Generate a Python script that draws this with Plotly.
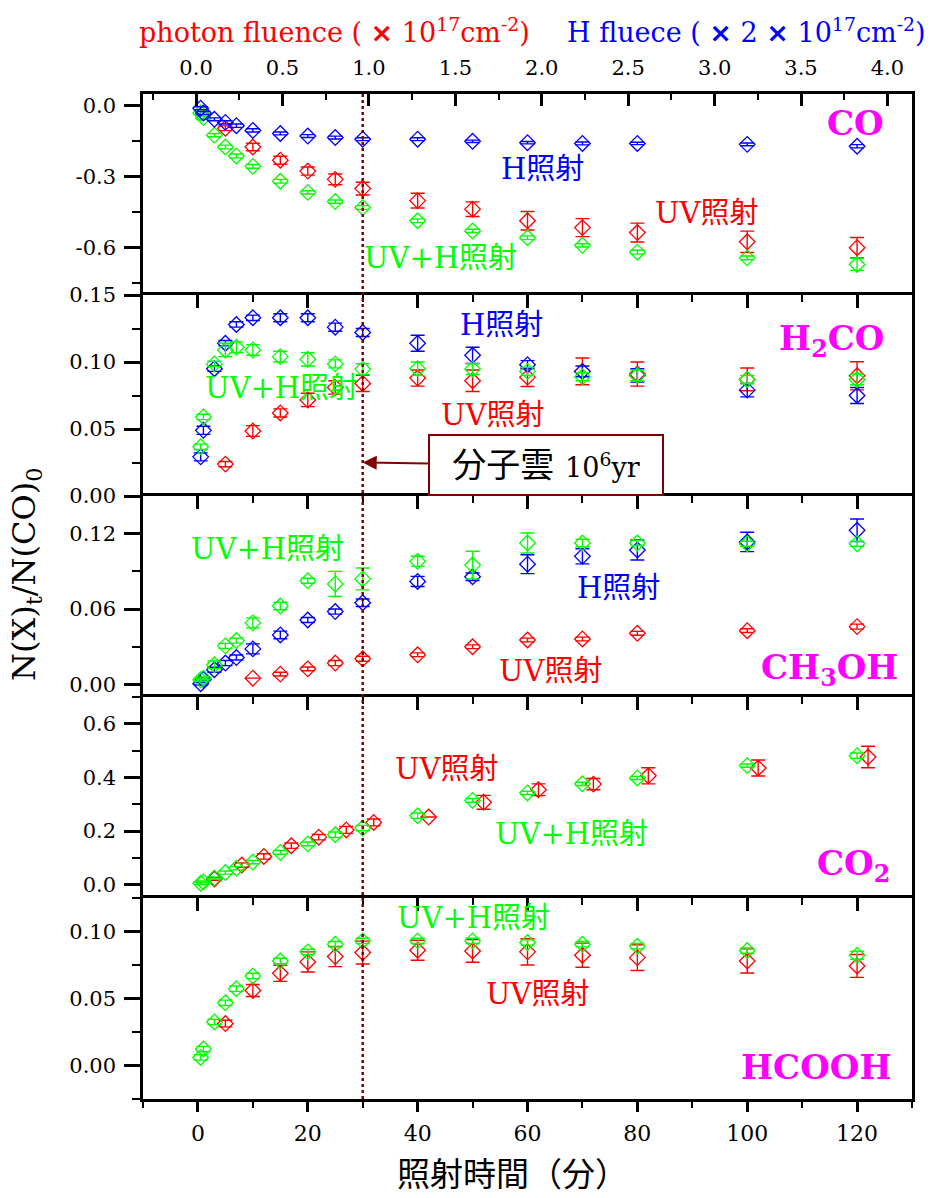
import plotly.graph_objects as go

# ---------------- data ----------------
t_H = [0.5, 1, 3, 5, 7, 10, 15, 20, 25, 30, 40, 50, 60, 70, 80, 100, 120]
t_UVH = [0.5, 1, 3, 5, 7, 10, 15, 20, 25, 30, 40, 50, 60, 70, 80, 100, 120]
t_UV = [5, 10, 15, 20, 25, 30, 40, 50, 60, 70, 80, 100, 120]
t_UV_ch3oh = [10, 15, 20, 25, 30, 40, 50, 60, 70, 80, 100, 120]
t_UV_co2 = [3, 8, 12, 17, 22, 27, 32, 42, 52, 62, 72, 82, 102, 122]

# CO
co_H = [-0.01, -0.03, -0.057, -0.07, -0.084, -0.104, -0.117, -0.128, -0.134, -0.141,
        -0.141, -0.150, -0.156, -0.159, -0.159, -0.163, -0.171]
co_H_err = [0.006, 0.006, 0.006, 0.007, 0.007, 0.007, 0.006, 0.006, 0.006, 0.006,
            0.006, 0.005, 0.005, 0.006, 0.005, 0.006, 0.007]
co_UV = [-0.095, -0.174, -0.230, -0.276, -0.311, -0.350, -0.401, -0.437, -0.486,
         -0.515, -0.536, -0.575, -0.600]
co_UV_err = [0.010, 0.016, 0.017, 0.017, 0.023, 0.027, 0.031, 0.031, 0.039, 0.038,
             0.040, 0.045, 0.043]
co_UVH = [-0.03, -0.05, -0.124, -0.174, -0.212, -0.256, -0.319, -0.366, -0.405, -0.430,
          -0.486, -0.529, -0.558, -0.590, -0.619, -0.643, -0.671]
co_UVH_err = [0.008, 0.008, 0.007, 0.008, 0.008, 0.008, 0.008, 0.007, 0.007, 0.008,
              0.008, 0.007, 0.008, 0.007, 0.008, 0.008, 0.025]

# H2CO
h2co_H = [0.0292, 0.049, 0.095, 0.114, 0.128, 0.133, 0.133, 0.133, 0.126, 0.122,
          0.114, 0.105, 0.098, 0.093, 0.090, 0.079, 0.075]
h2co_H_err = [0.003, 0.003, 0.002, 0.002, 0.002, 0.002, 0.003, 0.003, 0.003, 0.003,
              0.006, 0.006, 0.003, 0.004, 0.005, 0.005, 0.006]
h2co_UV = [0.0238, 0.0485, 0.062, 0.0717, 0.081, 0.084, 0.088, 0.086, 0.0887, 0.093,
           0.091, 0.087, 0.0897]
h2co_UV_err = [0.002, 0.004, 0.003, 0.005, 0.005, 0.006, 0.006, 0.008, 0.007, 0.010,
               0.009, 0.0085, 0.0105]
h2co_UVH = [0.0367, 0.059, 0.0986, 0.109, 0.111, 0.109, 0.104, 0.102, 0.0986, 0.0947,
            0.095, 0.0947, 0.093, 0.089, 0.090, 0.087, 0.087]
h2co_UVH_err = [0.002, 0.002, 0.002, 0.005, 0.004, 0.004, 0.004, 0.005, 0.003, 0.004,
                0.005, 0.004, 0.003, 0.003, 0.004, 0.003, 0.004]

# CH3OH
ch3oh_H = [0.0006, 0.004, 0.0117, 0.017, 0.0214, 0.0283, 0.0394, 0.0513, 0.058, 0.065,
           0.082, 0.0857, 0.0957, 0.102, 0.107, 0.1134, 0.1227]
ch3oh_H_err = [0.001, 0.001, 0.002, 0.002, 0.002, 0.004, 0.003, 0.002, 0.002, 0.003,
               0.004, 0.003, 0.0075, 0.006, 0.008, 0.0077, 0.009]
ch3oh_UV = [0.005, 0.0082, 0.0124, 0.017, 0.0204, 0.0236, 0.030, 0.0354, 0.0362,
            0.0407, 0.0428, 0.046]
ch3oh_UV_err = [0.0, 0.0015, 0.0015, 0.002, 0.002, 0.0015, 0.0015, 0.0015, 0.0015,
                0.0015, 0.0015, 0.002]
ch3oh_UVH = [0.0037, 0.005, 0.0156, 0.0307, 0.0349, 0.049, 0.0624, 0.0825, 0.080, 0.084,
             0.098, 0.095, 0.1126, 0.1126, 0.1126, 0.112, 0.112]
ch3oh_UVH_err = [0.001, 0.001, 0.003, 0.002, 0.002, 0.004, 0.003, 0.002, 0.010, 0.0087,
                 0.004, 0.011, 0.008, 0.003, 0.002, 0.002, 0.002]

# CO2
co2_UV = [0.021, 0.073, 0.105, 0.145, 0.177, 0.204, 0.232, 0.252, 0.307, 0.354, 0.375,
          0.406, 0.435, 0.476]
co2_UV_err = [0.005, 0.008, 0.010, 0.010, 0.010, 0.013, 0.013, 0.0, 0.026, 0.022, 0.021,
              0.030, 0.030, 0.040]
co2_UVH = [0.005, 0.010, 0.025, 0.045, 0.061, 0.084, 0.120, 0.152, 0.186, 0.211, 0.257,
           0.314, 0.342, 0.376, 0.398, 0.444, 0.481]
co2_UVH_err = [0.005, 0.004, 0.004, 0.006, 0.006, 0.006, 0.007, 0.007, 0.010, 0.010,
               0.010, 0.007, 0.006, 0.006, 0.006, 0.006, 0.010]

# HCOOH
hcooh_UV = [0.0313, 0.056, 0.0688, 0.0773, 0.0813, 0.0843, 0.086, 0.0855, 0.0848,
            0.0823, 0.0805, 0.078, 0.0743]
hcooh_UV_err = [0.0025, 0.0045, 0.006, 0.0075, 0.0075, 0.0085, 0.0075, 0.0085, 0.0098,
                0.009, 0.0096, 0.009, 0.0085]
hcooh_UVH = [0.006, 0.0123, 0.0325, 0.0468, 0.0573, 0.0668, 0.078, 0.0848, 0.0905,
             0.093, 0.093, 0.093, 0.0918, 0.0905, 0.089, 0.0858, 0.0823]
hcooh_UVH_err = [0.002, 0.002, 0.002, 0.002, 0.002, 0.002, 0.002, 0.002, 0.002, 0.002,
                 0.002, 0.002, 0.002, 0.002, 0.002, 0.002, 0.003]

top_ticks = [0.0, 0.5, 1.0, 1.5, 2.0, 2.5, 3.0, 3.5, 4.0]
bottom_ticks = [0, 20, 40, 60, 80, 100, 120]

# ---------------- styling ----------------
RED = "#FF0000"
BLUE = "#0000FF"
GREEN = "#00FF00"
MAG = "#FF00FF"
DARKRED = "#800000"
SERIF = "DejaVu Serif, Noto Sans CJK JP"
CJK = "Noto Sans CJK JP"

fig = go.Figure()


def add_series(xs, ys, errs, color, panel):
    ax = "x" if panel == 1 else f"x{panel}"
    ay = "y" if panel == 1 else f"y{panel}"
    fig.add_trace(go.Scatter(
        x=xs, y=ys, mode="markers", xaxis=ax, yaxis=ay, showlegend=False,
        marker=dict(symbol="diamond-open", size=12, color=color, line=dict(width=1.3, color=color)),
        error_y=dict(type="data", array=errs, visible=True, color=color, thickness=1.4, width=7),
    ))


add_series(t_UV, co_UV, co_UV_err, RED, 1)
add_series(t_UVH, co_UVH, co_UVH_err, GREEN, 1)
add_series(t_H, co_H, co_H_err, BLUE, 1)
add_series(t_UV, h2co_UV, h2co_UV_err, RED, 2)
add_series(t_H, h2co_H, h2co_H_err, BLUE, 2)
add_series(t_UVH, h2co_UVH, h2co_UVH_err, GREEN, 2)
add_series(t_UV_ch3oh, ch3oh_UV, ch3oh_UV_err, RED, 3)
add_series(t_H, ch3oh_H, ch3oh_H_err, BLUE, 3)
add_series(t_UVH, ch3oh_UVH, ch3oh_UVH_err, GREEN, 3)
add_series(t_UV_co2, co2_UV, co2_UV_err, RED, 4)
add_series(t_UVH, co2_UVH, co2_UVH_err, GREEN, 4)
add_series(t_UV, hcooh_UV, hcooh_UV_err, RED, 5)
add_series(t_UVH, hcooh_UVH, hcooh_UVH_err, GREEN, 5)

fig.add_trace(go.Scatter(x=[None], y=[None], xaxis="x6", yaxis="y", showlegend=False, hoverinfo="skip"))
fig.add_trace(go.Scatter(x=[None], y=[None], xaxis="x7", yaxis="y5", showlegend=False, hoverinfo="skip"))

LW = 2.5
tickfont = dict(family="DejaVu Serif", size=21, color="black")

layout = dict(
    width=934, height=1198,
    margin=dict(l=143, r=22, t=94, b=99),
    paper_bgcolor="white", plot_bgcolor="white",
    showlegend=False,
)

y_specs = [
    dict(range=[-0.8, 0.05], tickvals=[0.0, -0.3, -0.6], ticktext=["0.0", "-0.3", "-0.6"],
         minor_dtick=0.15),
    dict(range=[0, 0.15], tickvals=[0.0, 0.05, 0.10, 0.15], ticktext=["0.00", "0.05", "0.10", "0.15"],
         minor_dtick=0.025),
    dict(range=[-0.01, 0.15], tickvals=[0.0, 0.06, 0.12], ticktext=["0.00", "0.06", "0.12"],
         minor_dtick=0.03),
    dict(range=[-0.05, 0.7], tickvals=[0.0, 0.2, 0.4, 0.6], ticktext=["0.0", "0.2", "0.4", "0.6"],
         minor_dtick=0.1),
    dict(range=[-0.025, 0.125], tickvals=[0.0, 0.05, 0.10], ticktext=["0.00", "0.05", "0.10"],
         minor_dtick=0.025),
]
domains = [[0.8, 1.0], [0.6, 0.8], [0.4, 0.6], [0.2, 0.4], [0.0, 0.2]]
for i, s in enumerate(y_specs):
    k = i + 1
    name = "yaxis" if k == 1 else f"yaxis{k}"
    layout[name] = dict(
        domain=domains[i], anchor="x" if k == 1 else f"x{k}",
        range=s["range"], tickmode="array", tickvals=s["tickvals"], ticktext=s["ticktext"],
        showline=True, linewidth=LW, linecolor="black", mirror=True,
        ticks="outside", ticklen=16, tickwidth=LW, tickcolor="black",
        minor=dict(ticks="outside", ticklen=8, tickwidth=2, dtick=s["minor_dtick"], tick0=0,
                   tickcolor="black"),
        showgrid=False, zeroline=False, tickfont=tickfont, ticklabelstandoff=4,
    )

for k in range(1, 6):
    name = "xaxis" if k == 1 else f"xaxis{k}"
    d = dict(
        domain=[0, 1], anchor="y" if k == 1 else f"y{k}", side="top",
        range=[-10, 130], showline=True, linewidth=LW, linecolor="black",
        showgrid=False, zeroline=False, showticklabels=False,
    )
    if k == 1:
        d["ticks"] = ""
    else:
        d.update(ticks="inside", ticklen=13, tickwidth=LW, tickcolor="black", dtick=20, tick0=0,
                 minor=dict(ticks="inside", ticklen=7, tickwidth=2, dtick=10, tick0=0,
                            tickcolor="black"))
        d["matches"] = "x"
    layout[name] = d

layout["xaxis6"] = dict(
    overlaying="x", anchor="y", side="top", range=[-0.307, 4.142],
    tickmode="array", tickvals=top_ticks, ticktext=[f"{v:.1f}" for v in top_ticks],
    ticks="inside", ticklen=12, tickwidth=LW, tickcolor="black",
    minor=dict(ticks="inside", ticklen=6, tickwidth=2, dtick=0.25, tick0=0, tickcolor="black"),
    showline=True, linewidth=LW, linecolor="black", showgrid=False, zeroline=False,
    tickfont=tickfont, ticklabelstandoff=8,
)
layout["xaxis7"] = dict(
    overlaying="x5", anchor="y5", side="bottom", range=[-10, 130],
    tickmode="array", tickvals=bottom_ticks, ticktext=[str(v) for v in bottom_ticks],
    ticks="outside", ticklen=10, tickwidth=LW, tickcolor="black",
    minor=dict(ticks="outside", ticklen=6, tickwidth=2, dtick=10, tick0=0, tickcolor="black"),
    showline=True, linewidth=LW, linecolor="black", showgrid=False, zeroline=False,
    tickfont=dict(family="DejaVu Serif", size=22, color="black"), ticklabelstandoff=3,
)

fig.update_layout(**layout)

fig.add_shape(type="line", xref="x", yref="paper", x0=30, x1=30, y0=0, y1=1,
              line=dict(color=DARKRED, width=2.5, dash="dot"), layer="above")


def lab(text, x, y, color, panel, size=29, bold=False):
    ax = "x" if panel == 1 else f"x{panel}"
    ay = "y" if panel == 1 else f"y{panel}"
    if bold:
        text = f"<b>{text}</b>"
    fig.add_annotation(text=text, x=x, y=y, xref=ax, yref=ay, showarrow=False,
                       font=dict(family=SERIF, size=size, color=color),
                       xanchor="center", yanchor="middle")


lab("CO", 119.7, -0.074, MAG, 1, size=34, bold=True)
lab("H照射", 62.8, -0.269, BLUE, 1)
lab("UV照射", 92.6, -0.454, RED, 1)
lab("UV+H照射", 44.2, -0.643, GREEN, 1)
lab("H照射", 55.2, 0.1273, BLUE, 2)
lab("H<sub>2</sub>CO", 115.3, 0.116, MAG, 2, size=34, bold=True)
lab("UV+H照射", 15.2, 0.0804, GREEN, 2)
lab("UV照射", 53.7, 0.0604, RED, 2)
lab("UV+H照射", 12.7, 0.1076, GREEN, 3)
lab("H照射", 76.5, 0.0767, BLUE, 3)
lab("UV照射", 64.1, 0.011, RED, 3)
lab("CH<sub>3</sub>OH", 115.0, 0.012, MAG, 3, size=34, bold=True)
lab("UV照射", 45.3, 0.432, RED, 4)
lab("UV+H照射", 68.1, 0.189, GREEN, 4)
lab("CO<sub>2</sub>", 119.3, 0.070, MAG, 4, size=34, bold=True)
lab("UV+H照射", 50.1, 0.110, GREEN, 5)
lab("UV照射", 61.8, 0.0536, RED, 5)
lab("HCOOH", 112.7, -0.0014, MAG, 5, size=34, bold=True)

fig.add_annotation(
    text='分子雲 <span style="font-size:27px">10<sup>6</sup>yr</span>',
    x=30, y=0.025, xref="x2", yref="y2", ax=183, ay=3,
    showarrow=True, arrowhead=2, arrowsize=1.4, arrowwidth=2, arrowcolor=DARKRED,
    font=dict(family=SERIF, size=34, color="black"),
    bgcolor="white", bordercolor=DARKRED, borderwidth=2, borderpad=4,
    width=224, height=50, align="center",
)

X = '<span style="font-family:DejaVu Sans"><b>×</b></span>'
fig.add_annotation(
    text=f"photon fluence ( {X} 10<sup>17</sup>cm<sup>-2</sup>)",
    x=(334 - 143) / 769, y=(1099 - 31) / 1005, xref="paper", yref="paper", showarrow=False,
    font=dict(family=SERIF, size=27, color=RED), xanchor="center", yanchor="middle")
fig.add_annotation(
    text=f"H fluece ( {X} 2 {X} 10<sup>17</sup>cm<sup>-2</sup>)",
    x=(746 - 143) / 769, y=(1099 - 31) / 1005, xref="paper", yref="paper", showarrow=False,
    font=dict(family=SERIF, size=27, color=BLUE), xanchor="center", yanchor="middle")

fig.add_annotation(
    text="N(X)<sub>t</sub>/N(CO)<sub>0</sub>", textangle=-90,
    x=(26 - 143) / 769, y=(1099 - 575) / 1005, xref="paper", yref="paper", showarrow=False,
    font=dict(family="DejaVu Serif", size=32, color="black"), xanchor="center", yanchor="middle")
fig.add_annotation(
    text="照射時間（分）",
    x=(512 - 143) / 769, y=(1099 - 1172) / 1005, xref="paper", yref="paper", showarrow=False,
    font=dict(family=CJK, size=33, color="black"), xanchor="center", yanchor="middle")

fig.write_html("out.html")
